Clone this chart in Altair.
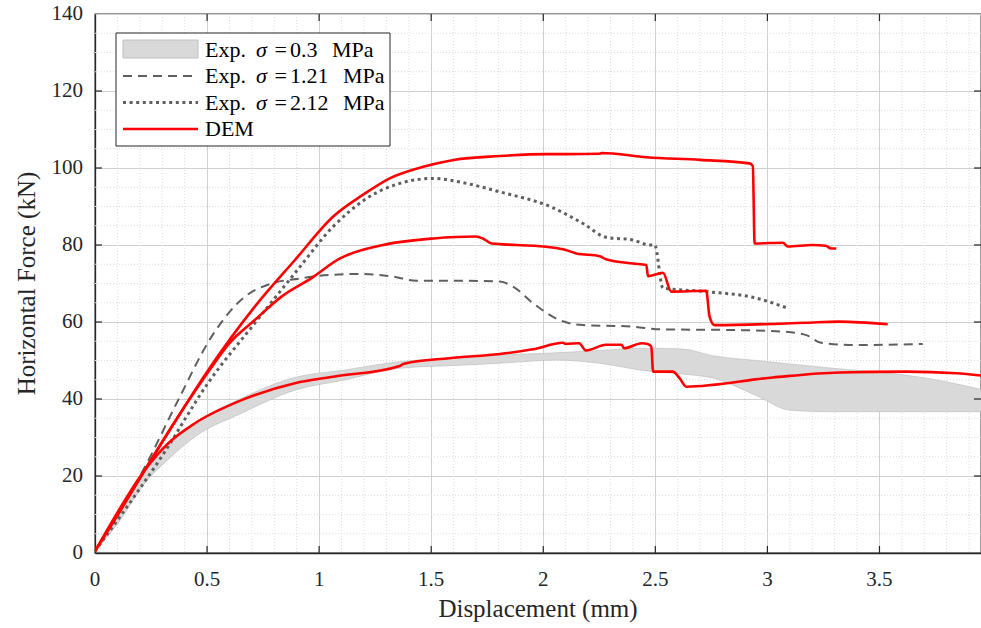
import altair as alt
import numpy as np
import pandas as pd

# ---------------- data ----------------
band_x = [0, 0.1, 0.223, 0.33, 0.446, 0.654, 0.892, 1.11, 1.36, 1.6, 1.806, 2.06, 2.25, 2.46, 2.62, 2.76, 2.95, 3.1, 3.29, 3.53, 3.75, 3.953]
band_upper = [0.5, 10, 21.6, 28, 33.7, 40.2, 45.6, 47.5, 49.7, 50.6, 51.4, 52, 52.6, 53.2, 53, 51.2, 50, 49.1, 48, 46.8, 45, 42.5]
band_lower = [0.5, 7.5, 18.2, 24.5, 30.2, 36.3, 42.3, 44.9, 48, 48.7, 49.3, 50.1, 49.3, 47.3, 46.5, 45.4, 40.9, 37.1, 36.7, 36.7, 36.7, 36.7]

dash_x = [0, 0.045, 0.223, 0.371, 0.52, 0.669, 0.788, 0.914, 0.988, 1.181, 1.33, 1.434, 1.657, 1.806, 1.865, 1.954, 2.073, 2.177, 2.4, 2.519, 2.876, 3.069, 3.173, 3.24, 3.396, 3.693]
dash_y = [0.5, 5, 22.4, 39.7, 56.2, 66.6, 70, 71.3, 71.9, 72.5, 71.8, 70.7, 70.7, 70.5, 69.2, 64.9, 60.5, 59.2, 58.8, 58.1, 57.9, 57.5, 56.6, 54.6, 54, 54.3]

dot_x = [0, 0.1, 0.297, 0.505, 0.713, 0.892, 1.063, 1.212, 1.36, 1.51, 1.657, 1.806, 2.03, 2.177, 2.28, 2.4, 2.474, 2.497, 2.534, 2.727, 2.95, 3.09]
dot_y = [0.5, 8.5, 25, 44.2, 59.7, 72.7, 84.8, 92.1, 96, 97.3, 96, 93.8, 90, 85.6, 82, 81.3, 80, 80, 68.8, 67.9, 66.2, 63.6]

dem1_x = [0, 0.1, 0.223, 0.35, 0.505, 0.713, 0.892, 1.063, 1.2, 1.315, 1.464, 1.6, 1.806, 2.014, 2.1, 2.252, 2.26, 2.46, 2.7, 2.92, 2.935, 2.943, 3.069, 3.091, 3.2, 3.26, 3.284, 3.307]
dem1_y = [0.5, 9.8, 21.6, 33.5, 47.5, 64, 76.1, 87.4, 93.2, 97.3, 100.3, 102.1, 103.1, 103.6, 103.6, 103.7, 103.9, 102.8, 102.1, 101.2, 100.5, 80.4, 80.6, 79.6, 80, 79.8, 79.1, 79.1]

dem2_x = [0, 0.1, 0.223, 0.35, 0.505, 0.6, 0.713, 0.832, 0.966, 1.093, 1.285, 1.51, 1.7, 1.73, 1.77, 1.88, 2.03, 2.1, 2.148, 2.252, 2.28, 2.4, 2.46, 2.467, 2.534, 2.571, 2.727, 2.742, 2.764, 3.17, 3.32, 3.537]
dem2_y = [0.5, 9.8, 21.6, 33.5, 47, 54.5, 60.5, 66.6, 71.4, 76.5, 80, 81.7, 82.2, 81.7, 80.4, 80, 79.4, 78.7, 77.8, 77.1, 76.3, 75.2, 74.8, 71.9, 72.8, 67.9, 68.1, 61.4, 59.2, 59.8, 60.1, 59.4]

dem3_x = [0, 0.1, 0.223, 0.327, 0.446, 0.654, 0.892, 1.063, 1.36, 1.375, 1.58, 1.806, 1.954, 2.088, 2.1, 2.16, 2.19, 2.28, 2.35, 2.36, 2.44, 2.466, 2.482, 2.49, 2.578, 2.608, 2.638, 3.024, 3.32, 3.619, 3.842, 3.953]
dem3_y = [0.5, 10.5, 21.6, 28.5, 33.7, 39.7, 44.1, 45.8, 48.6, 49.1, 50.6, 51.7, 52.9, 54.6, 54.3, 54.5, 52.6, 54.1, 54.1, 53.2, 54.5, 54.3, 53.6, 47.1, 47.1, 45.4, 43.2, 45.6, 46.9, 47.1, 46.7, 46.1]

x_ticks = [0, 0.5, 1, 1.5, 2, 2.5, 3, 3.5]
x_tick_labels = ["0", "0.5", "1", "1.5", "2", "2.5", "3", "3.5"]
y_ticks = [0, 20, 40, 60, 80, 100, 120, 140]
y_tick_labels = ["0", "20", "40", "60", "80", "100", "120", "140"]
x_minor = [round(v, 2) for v in np.arange(0.1, 3.95, 0.1) if abs(v / 0.5 - round(v / 0.5)) > 1e-6]
y_minor = [v for v in range(5, 140, 5) if v % 20 != 0]

x_title = "Displacement (mm)"
y_title = "Horizontal Force (kN)"
legend_values = ["0.3", "1.21", "2.12"]

# ---------------- layout ----------------
W, H = 886, 539
FONT = "Liberation Serif"
TXT = "#262626"
XMAX = 3.953

xs = alt.Scale(domain=[0, XMAX], nice=False, zero=False)
ys = alt.Scale(domain=[0, 140], nice=False)
axis_style = dict(grid=True, gridColor="#d0d0d0", gridWidth=1, tickSize=0, labels=False, title=None,
                  domainColor=TXT, domainWidth=1.3)
xaxis = alt.Axis(values=x_ticks, **axis_style)
yaxis = alt.Axis(values=y_ticks, **axis_style)


def X(field):
    return alt.X(field, type="quantitative", scale=xs, axis=xaxis)


def Y(field):
    return alt.Y(field, type="quantitative", scale=ys, axis=yaxis)


band_df = pd.DataFrame({"x": band_x, "up": band_upper, "lo": band_lower})
dash_df = pd.DataFrame({"x": dash_x, "y": dash_y, "i": range(len(dash_x))})
dot_df = pd.DataFrame({"x": dot_x, "y": dot_y, "i": range(len(dot_x))})
dem_df = pd.concat([
    pd.DataFrame({"x": dem1_x, "y": dem1_y, "s": "d1", "i": range(len(dem1_x))}),
    pd.DataFrame({"x": dem2_x, "y": dem2_y, "s": "d2", "i": range(len(dem2_x))}),
    pd.DataFrame({"x": dem3_x, "y": dem3_y, "s": "d3", "i": range(len(dem3_x))}),
])

minor_x = alt.Chart(pd.DataFrame({"x": x_minor})).mark_rule(
    color="#dcdcdc", strokeWidth=1, strokeDash=[1, 2]).encode(x=X("x"))
minor_y = alt.Chart(pd.DataFrame({"y": y_minor})).mark_rule(
    color="#dcdcdc", strokeWidth=1, strokeDash=[1, 2]).encode(y=Y("y"))

band = alt.Chart(band_df).mark_area(color="#d9d9d9", opacity=1, interpolate="monotone",
                                    line={"color": "#b8b8b8", "strokeWidth": 0.6}).encode(
    x=X("x"), y=Y("up"), y2="lo")
band_lo_line = alt.Chart(band_df).mark_line(color="#b8b8b8", strokeWidth=0.6, interpolate="monotone").encode(
    x=X("x"), y=Y("lo"))

DOT = [3, 3.6]
dashed = alt.Chart(dash_df).mark_line(color="#5f5f5f", strokeWidth=2, strokeDash=[9, 6], interpolate="monotone").encode(
    x=X("x"), y=Y("y"), order="i:Q")
dotted = alt.Chart(dot_df).mark_line(color="#5f5f5f", strokeWidth=3, strokeDash=DOT, interpolate="monotone").encode(
    x=X("x"), y=Y("y"), order="i:Q")
dem = alt.Chart(dem_df).mark_line(color="#ff0000", strokeWidth=2.6, clip=True, interpolate="monotone").encode(
    x=X("x"), y=Y("y"), detail="s:N", order="i:Q")

# inward ticks (MATLAB style)
xt = pd.DataFrame({"x": x_ticks[1:]})
yt = pd.DataFrame({"y": y_ticks[1:-1]})
tick_col = "#262626"
tick_b = alt.Chart(xt).mark_rule(color=tick_col, strokeWidth=1.2).encode(x=X("x"), y=alt.value(H), y2=alt.value(H - 7))
tick_t = alt.Chart(xt).mark_rule(color=tick_col, strokeWidth=1.2).encode(x=X("x"), y=alt.value(0), y2=alt.value(7))
tick_l = alt.Chart(yt).mark_rule(color=tick_col, strokeWidth=1.2).encode(y=Y("y"), x=alt.value(0), x2=alt.value(7))
tick_r = alt.Chart(yt).mark_rule(color=tick_col, strokeWidth=1.2).encode(y=Y("y"), x=alt.value(W - 7), x2=alt.value(W))

# tick labels and titles as text marks (serif)
xl = pd.DataFrame({"x": x_ticks, "t": x_tick_labels})
yl = pd.DataFrame({"y": y_ticks, "t": y_tick_labels})
xlab = alt.Chart(xl).mark_text(font=FONT, fontSize=21, color=TXT, align="center", baseline="middle").encode(
    x=X("x"), y=alt.value(H + 27), text="t:N")
ylab = alt.Chart(yl).mark_text(font=FONT, fontSize=21, color=TXT, align="right", baseline="middle").encode(
    y=Y("y"), x=alt.value(-12), text="t:N")
one = pd.DataFrame({"k": [0]})
xtitle = alt.Chart(one).mark_text(text=x_title, font=FONT, fontSize=25, color=TXT, align="center", baseline="alphabetic").encode(
    x=alt.value(W / 2), y=alt.value(603))
ytitle = alt.Chart(one).mark_text(text=y_title, font=FONT, fontSize=25, color=TXT, align="center", baseline="middle", angle=270).encode(
    x=alt.value(-68), y=alt.value(H / 2))

# legend (hand-built)
leg_box = alt.Chart(one).mark_rect(fill="white", stroke="#262626", strokeWidth=1).encode(
    x=alt.value(21), x2=alt.value(295), y=alt.value(19), y2=alt.value(132))
leg_patch = alt.Chart(one).mark_rect(fill="#d9d9d9", stroke="#c0c0c0", strokeWidth=1).encode(
    x=alt.value(28), x2=alt.value(103), y=alt.value(26), y2=alt.value(44))
leg_dash = alt.Chart(one).mark_rule(color="#5f5f5f", strokeWidth=2, strokeDash=[9, 6]).encode(
    x=alt.value(28), x2=alt.value(103), y=alt.value(62))
leg_dot = alt.Chart(one).mark_rule(color="#5f5f5f", strokeWidth=3, strokeDash=DOT).encode(
    x=alt.value(28), x2=alt.value(103), y=alt.value(88.5))
leg_dem = alt.Chart(one).mark_rule(color="#ff0000", strokeWidth=2.6).encode(
    x=alt.value(28), x2=alt.value(103), y=alt.value(115))

LFS = 22
rows_y = [36, 62, 88.5]
mpa_x = [237, 248, 248]


def ltext(txt, x, y, italic=False):
    kw = dict(text=txt, font=FONT, fontSize=LFS, color="#000", align="left", baseline="middle")
    if italic:
        kw["fontStyle"] = "italic"
    return alt.Chart(one).mark_text(**kw).encode(x=alt.value(x), y=alt.value(y))


leg_texts = []
for ry, val, mx in zip(rows_y, legend_values, mpa_x):
    leg_texts += [ltext("Exp.", 110, ry), ltext("σ", 161, ry, italic=True), ltext("=", 179.5, ry),
                  ltext(val, 195, ry), ltext("MPa", mx, ry)]
leg_texts.append(ltext("DEM", 110, 115))

chart = alt.layer(
    minor_x, minor_y, band, band_lo_line, dashed, dotted, dem,
    tick_b, tick_t, tick_l, tick_r, xlab, ylab, xtitle, ytitle,
    leg_box, leg_patch, leg_dash, leg_dot, leg_dem, *leg_texts,
).properties(
    width=W, height=H,
    padding={"left": 95, "top": 14, "right": 0, "bottom": 75},
    autosize=alt.AutoSizeParams(type="none"),
).configure_view(
    stroke="#262626", strokeWidth=1.3
)

chart.save("out.html", embed_options={"renderer": "svg", "actions": False})
